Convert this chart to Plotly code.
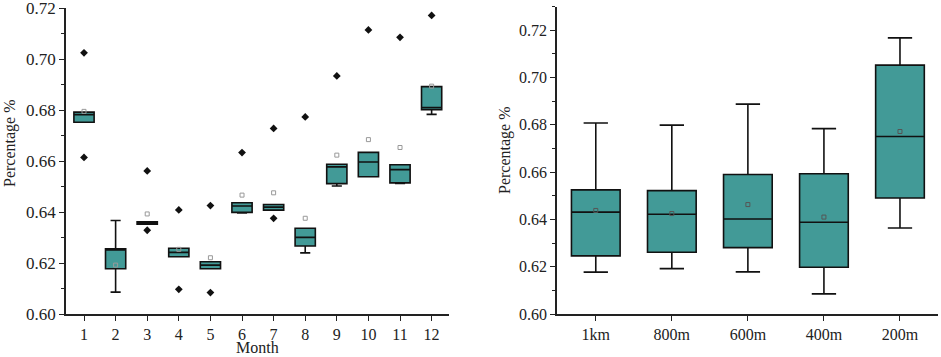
import plotly.graph_objects as go

# ---- Left panel: monthly data ----
months = [1, 2, 3, 4, 5, 6, 7, 8, 9, 10, 11, 12]
m_q1 = [0.6753, 0.6178, 0.6353, 0.6225, 0.6178, 0.6399, 0.6408, 0.6267, 0.6512, 0.6539, 0.6515, 0.6803]
m_median = [0.6783, 0.6254, 0.6357, 0.6242, 0.6192, 0.6424, 0.6420, 0.6301, 0.6578, 0.6597, 0.6567, 0.6811]
m_q3 = [0.6793, 0.6256, 0.6362, 0.6258, 0.6205, 0.6437, 0.6430, 0.6337, 0.6588, 0.6635, 0.6586, 0.6893]
m_low = [0.6753, 0.6086, 0.6353, 0.6225, 0.6178, 0.6397, 0.6408, 0.6240, 0.6503, 0.6539, 0.6513, 0.6784]
m_high = [0.6793, 0.6367, 0.6362, 0.6258, 0.6205, 0.6437, 0.6430, 0.6337, 0.6588, 0.6635, 0.6586, 0.6893]
m_mean = [0.6796, 0.6192, 0.6393, 0.6254, 0.6221, 0.6467, 0.6476, 0.6376, 0.6624, 0.6685, 0.6654, 0.6895]
out_month = [1, 1, 3, 3, 4, 4, 5, 5, 6, 7, 7, 8, 9, 10, 11, 12]
out_value = [0.7026, 0.6615, 0.6562, 0.6329, 0.6409, 0.6097, 0.6426, 0.6084,
             0.6634, 0.6729, 0.6376, 0.6774, 0.6935, 0.7116, 0.7087, 0.7173]
month_ticks = [str(m) for m in months]

# ---- Right panel: buffer distance ----
dists = ["1km", "800m", "600m", "400m", "200m"]
d_q1 = [0.6246, 0.6261, 0.6281, 0.6198, 0.6491]
d_median = [0.6431, 0.6422, 0.6402, 0.6388, 0.6751]
d_q3 = [0.6525, 0.6522, 0.6590, 0.6593, 0.7053]
d_low = [0.6177, 0.6192, 0.6178, 0.6085, 0.6364]
d_high = [0.6808, 0.6799, 0.6888, 0.6784, 0.7168]
d_mean = [0.6438, 0.6425, 0.6463, 0.6410, 0.6772]

TEAL = "#429a97"
FONT = "'Liberation Serif', serif"


def tfont(size):
    return dict(family=FONT, size=size, color="#222222")


fig = go.Figure()

fig.add_trace(go.Box(
    x=months, q1=m_q1, median=m_median, q3=m_q3,
    lowerfence=m_low, upperfence=m_high,
    width=0.64, fillcolor=TEAL, line=dict(color="#111111", width=1.6),
    boxpoints=False, whiskerwidth=0.5, showlegend=False,
    xaxis="x", yaxis="y"))
fig.add_trace(go.Scatter(
    x=out_month, y=out_value, mode="markers",
    marker=dict(symbol="diamond", size=6, color="#111111"),
    showlegend=False, xaxis="x", yaxis="y"))
fig.add_trace(go.Scatter(
    x=months, y=m_mean, mode="markers",
    marker=dict(symbol="square-open", size=4, color="#999999", line=dict(width=1)),
    showlegend=False, xaxis="x", yaxis="y"))

fig.add_trace(go.Box(
    x=dists, q1=d_q1, median=d_median, q3=d_q3,
    lowerfence=d_low, upperfence=d_high,
    width=0.64, fillcolor=TEAL, line=dict(color="#111111", width=1.6),
    boxpoints=False, whiskerwidth=0.5, showlegend=False,
    xaxis="x2", yaxis="y2"))
fig.add_trace(go.Scatter(
    x=dists, y=d_mean, mode="markers",
    marker=dict(symbol="square-open", size=4, color="#555555", line=dict(width=1)),
    showlegend=False, xaxis="x2", yaxis="y2"))


def axis_common():
    return dict(showline=True, linecolor="#222222", linewidth=1.5,
                ticks="outside", ticklen=5, tickwidth=1.3, tickcolor="#222222",
                showgrid=False, zeroline=False, automargin=False,
                ticklabeloverflow="allow")


fig.update_layout(
    width=941, height=357,
    margin=dict(l=0, r=0, t=0, b=0),
    paper_bgcolor="white", plot_bgcolor="white",
    font=dict(family=FONT, size=16, color="#222222"),
    xaxis=dict(domain=[66/941, 449/941], range=[0.43, 12.55],
               tickmode="array", tickvals=months, ticktext=month_ticks,
               tickfont=tfont(16), anchor="y", **axis_common()),
    yaxis=dict(domain=[43/357, 349/357], range=[0.60, 0.7202],
               tickmode="linear", tick0=0.60, dtick=0.02, tickformat=".2f",
               minor=dict(dtick=0.01, ticks="outside", ticklen=3, tickcolor="#222222"),
               tickfont=tfont(17), anchor="x", **axis_common()),
    xaxis2=dict(domain=[557/941, 938/941], range=[-0.51, 4.5], type="category",
                tickfont=tfont(16), anchor="y2", **axis_common()),
    yaxis2=dict(domain=[43/357, 350.3/357], range=[0.60, 0.73],
                tickmode="linear", tick0=0.60, dtick=0.02, tickformat=".2f",
                minor=dict(dtick=0.01, ticks="outside", ticklen=3, tickcolor="#222222"),
                tickfont=tfont(16), anchor="x2", **axis_common()),
    annotations=[
        dict(text="Month", x=257/941, y=0, xref="paper", yref="paper",
             xanchor="center", yanchor="bottom", borderpad=0,
             showarrow=False, font=tfont(16)),
        dict(text="Percentage %", x=10/941, y=1 - 143/357, xref="paper", yref="paper",
             xanchor="center", yanchor="middle",
             textangle=-90, showarrow=False, font=tfont(16)),
        dict(text="Percentage %", x=505/941, y=1 - 150/357, xref="paper", yref="paper",
             xanchor="center", yanchor="middle",
             textangle=-90, showarrow=False, font=tfont(16)),
    ],
)

fig.write_html("out.html", config={"displayModeBar": False},
               post_script="document.body.style.margin='0';document.body.style.overflow='hidden';")
